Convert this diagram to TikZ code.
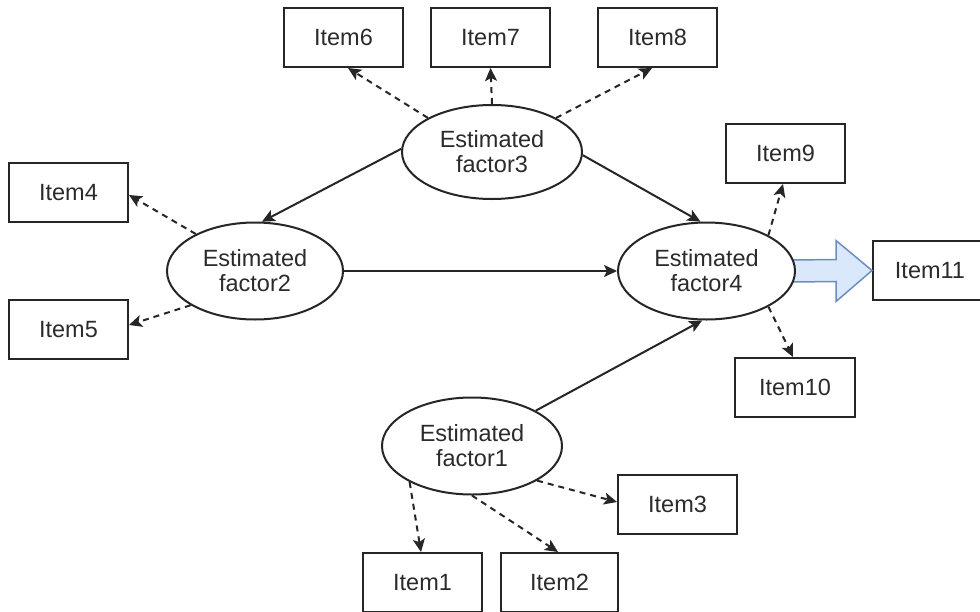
\documentclass[tikz,border=0pt]{standalone}
\usepackage{fontspec}
\setmainfont{Liberation Sans}
\usetikzlibrary{arrows.meta,calc,shapes.geometric}
\definecolor{ln}{HTML}{262626}
\definecolor{tx}{HTML}{2B2B2B}
\definecolor{bafill}{HTML}{DAE8FC}
\definecolor{badraw}{HTML}{6C8EBF}
\tikzset{
  itembox/.style={draw=ln, line width=2pt, fill=white, minimum width=119pt, minimum height=59pt, inner sep=0pt, text=tx, font=\fontsize{23.5}{25}\selectfont},
  factor/.style={draw=ln, line width=2pt, ellipse, fill=white, minimum width=178pt, minimum height=97pt, inner sep=0pt, text=tx, align=center, font=\fontsize{23.5}{25}\selectfont},
  solidarr/.style={draw=ln, line width=2pt, -{Stealth[length=13pt,width=12pt,inset=3pt]}},
  dasharr/.style={draw=ln, line width=2pt, dash pattern=on 6pt off 5pt, -{Stealth[length=13pt,width=12pt,inset=3pt]}},
}
\begin{document}
\begin{tikzpicture}[x=1pt,y=-1pt]
\useasboundingbox (0,0) rectangle (980,611);
\clip (0,0) rectangle (980,611);
\fill[white] (0,0) rectangle (980,611);
% boxes
\node[itembox] (i6) at (343.5,37.5) {Item6};
\node[itembox] (i7) at (490.5,37.5) {Item7};
\node[itembox] (i8) at (657.5,37.5) {Item8};
\node[itembox] (i4) at (68.5,192.5) {Item4};
\node[itembox] (i5) at (68.5,329.5) {Item5};
\node[itembox] (i9) at (785.5,153.5) {Item9};
\node[itembox, minimum width=120pt] (i10) at (795,387.5) {Item10};
\node[itembox, minimum width=114pt] (i11) at (930,270.5) {Item11};
\node[itembox] (i3) at (677.5,504.5) {Item3};
\node[itembox] (i1) at (422.5,582.5) {Item1};
\node[itembox, minimum width=117pt] (i2) at (559.5,582.5) {Item2};
% block arrow (behind the ellipse)
\coordinate (bs) at (792,271);
\fill[bafill] ($(bs)+(0,-11)$) -- ($(i11.west)+(-36,-11)$) -- ($(i11.west)+(-36,-30)$) -- (i11.west) -- ($(i11.west)+(-36,31)$) -- ($(i11.west)+(-36,11)$) -- ($(bs)+(0,11)$) -- cycle;
\draw[badraw, line width=1.5pt, line join=miter] ($(bs)+(0,-11)$) -- ($(i11.west)+(-36,-11)$) -- ($(i11.west)+(-36,-30)$) -- (i11.west) -- ($(i11.west)+(-36,31)$) -- ($(i11.west)+(-36,11)$) -- ($(bs)+(0,11)$);
% factors
\node[factor, minimum width=180pt, minimum height=94pt] (e3) at (492,152) {Estimated\\factor3};
\node[factor, minimum width=176pt] (e2) at (255,271) {Estimated\\factor2};
\node[factor, minimum width=177pt] (e4) at (706.5,271) {Estimated\\factor4};
\node[factor, minimum width=180pt] (e1) at (472,446) {Estimated\\factor1};
% structural paths
\draw[solidarr] (e3.178) -- (e2.82);
\draw[solidarr] (e3.-2) -- (e4.97);
\draw[solidarr] (e2.east) -- (e4.west);
\draw[solidarr] (e1.29) -- (e4.265);
% measurement paths
\draw[dasharr] (e3.152) -- ([xshift=4.5pt]i6.south);
\draw[dasharr] (e3.north) -- (i7.south);
\draw[dasharr] (e3.28) -- ([xshift=-5.5pt]i8.south);
\draw[dasharr] (e2.148) -- ([yshift=-2.5pt]i4.east);
\draw[dasharr] (e2.208) -- ([yshift=4.5pt]i5.east);
\draw[dasharr] (e4.30) -- ([xshift=-2.5pt]i9.south);
\draw[dasharr] (e4.-30) -- ([xshift=-2pt]i10.north);
\draw[dasharr] (e1.210) -- ([xshift=-1.5pt]i1.north);
\draw[dasharr] (e1.south) -- ([xshift=-1.5pt]i2.north);
\draw[dasharr] (e1.-28) -- ([yshift=2.5pt]i3.west);
\end{tikzpicture}
\end{document}
